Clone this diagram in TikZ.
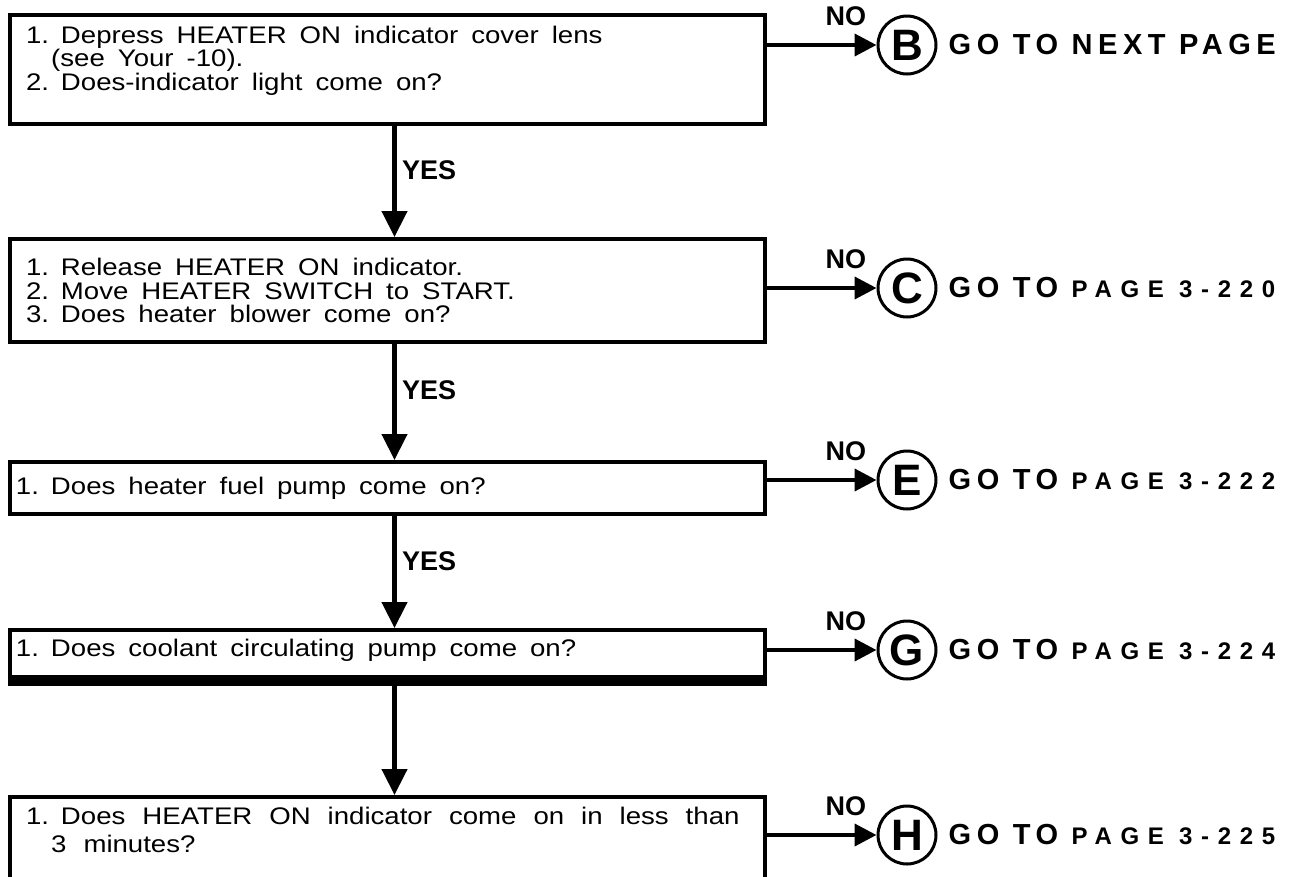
\documentclass[tikz,border=0pt]{standalone}
\usepackage{fontspec}
\setmainfont{Liberation Sans}
\newfontfamily\boxface[FakeStretch=1.15]{Liberation Sans}
\newfontfamily\gofont[LetterSpace=19]{Liberation Sans}
\newfontfamily\pagefont[LetterSpace=36]{Liberation Sans}
\usepackage{tikz}
\usetikzlibrary{positioning,arrows.meta}
\newcommand\boxfont{\boxface\fontsize{24}{23.5}\selectfont\lineskiplimit=-100pt}
\tikzset{
  qbox/.style={draw,line width=4pt,align=left,text width=723pt,inner xsep=16pt,font=\boxfont,
    execute at begin node={\spaceskip=13pt plus 2pt\relax}},
  yesarr/.style={-{Triangle[length=26pt,width=25pt]},line width=4.5pt},
  noarr/.style={-{Triangle[length=22pt,width=22pt]},line width=4pt},
  goto/.style={draw,circle,line width=3pt,minimum size=58pt,inner sep=0pt,font=\bfseries\fontsize{44}{44}\selectfont},
  tag/.style={font=\bfseries\fontsize{27}{27}\selectfont},
  golabel/.style={anchor=west,inner sep=0pt,font=\gofont\bfseries\fontsize{29}{29}\selectfont},
}
\newcommand\pg[1]{{\pagefont\fontsize{24}{24}\selectfont #1}}

\begin{document}
\begin{tikzpicture}[x=1pt,y=-1pt]
\useasboundingbox (0,0) rectangle (1291,876);
\clip (0,0) rectangle (1291,876);
% question boxes
\node[qbox,minimum height=109pt,text depth=70pt,anchor=north west] (box1) at (8,13) {1. Depress HEATER ON indicator cover lens\\
\hspace*{1.05em}(see Your -10).\\
2. Does-indicator light come on?};
\node[qbox,minimum height=103pt,below=111pt of box1] (box2) {1. Release HEATER ON indicator.\\
2. Move HEATER SWITCH to START.\\
3. Does heater blower come on?};
\node[qbox,minimum height=52pt,inner xsep=6pt,text width=743pt,below=116pt of box2] (box3) {1. Does heater fuel pump come on?};
\node[qbox,minimum height=54pt,inner xsep=6pt,text width=743pt,text depth=18pt,below=112pt of box3] (box4) {1. Does coolant circulating pump come on?};
\draw[line width=11pt] ([yshift=5.5pt]box4.south west) -- ([yshift=5.5pt]box4.south east);
\node[qbox,minimum height=100pt,text depth=63pt,below=109pt of box4,
  execute at begin node={\spaceskip=17pt plus 2pt\relax}] (box5) {1. Does HEATER ON indicator come on in less than\\[5pt]
\hspace*{1.05em}3 minutes?};
% go-to circles
\node[goto] (cB) at (907,45) {B};
\node[goto] (cC) at (907,288) {C};
\node[goto] (cE) at (907,480) {E};
\node[goto] (cG) at (907,650) {G};
\node[goto] (cH) at (907,835) {H};
\node[golabel,right=11pt of cB] (gB) {GO TO NEXT PAGE};
\node[golabel,right=11pt of cC] (gC) {GO TO \pg{PAGE 3-220}};
\node[golabel,right=11pt of cE] (gE) {GO TO \pg{PAGE 3-222}};
\node[golabel,right=11pt of cG] (gG) {GO TO \pg{PAGE 3-224}};
\node[golabel,right=11pt of cH] (gH) {GO TO \pg{PAGE 3-225}};
% NO branches
\draw[noarr] (box1.east |- cB) -- node[tag,above=14pt,pos=0.72] {NO} (cB);
\draw[noarr] (box2.east |- cC) -- node[tag,above=14pt,pos=0.72] {NO} (cC);
\draw[noarr] (box3.east |- cE) -- node[tag,above=14pt,pos=0.72] {NO} (cE);
\draw[noarr] (box4.east |- cG) -- node[tag,above=14pt,pos=0.72] {NO} (cG);
\draw[noarr] (box5.east |- cH) -- node[tag,above=14pt,pos=0.72] {NO} (cH);
% YES path down
\draw[yesarr] ([xshift=7pt]box1.south) -- node[tag,right=2pt,pos=0.4] {YES} ([xshift=7pt]box2.north);
\draw[yesarr] ([xshift=7pt]box2.south) -- node[tag,right=2pt,pos=0.4] {YES} ([xshift=7pt]box3.north);
\draw[yesarr] ([xshift=7pt]box3.south) -- node[tag,right=2pt,pos=0.4] {YES} ([xshift=7pt]box4.north);
\draw[yesarr] ([xshift=7pt]box4.south) -- ([xshift=7pt]box5.north);
\end{tikzpicture}
\end{document}
